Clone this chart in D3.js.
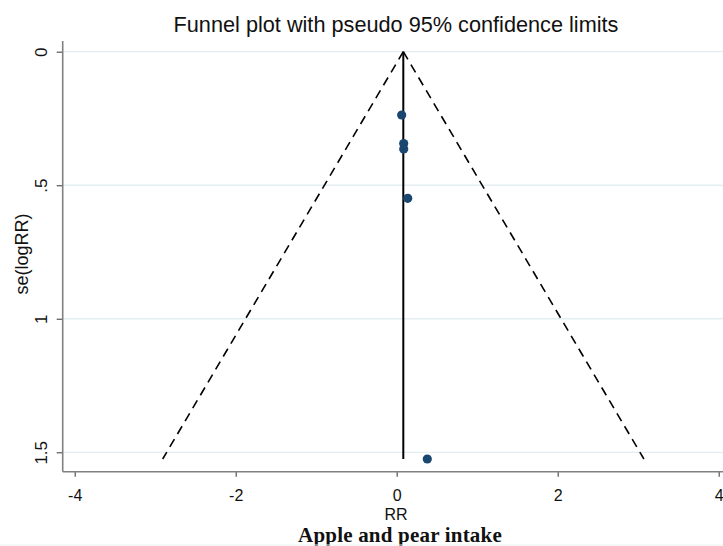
<!DOCTYPE html>
<html>
<head>
<meta charset="utf-8">
<script src="https://cdn.jsdelivr.net/npm/d3@7"></script>
<style>
  body { margin: 0; background: #fff; }
  text { font-family: "Liberation Sans", Arial, sans-serif; fill: #111; }
</style>
</head>
<body>
<div id="chart"></div>
<script>
// study estimates
var logRR = [0.062, 0.087, 0.087, 0.137, 0.380];
var seLogRR = [0.237, 0.344, 0.364, 0.549, 1.525];

// pooled estimate and pseudo 95% limits (endpoints of the funnel)
var pooled = 0.082;
var funnelSe = [0, 1.525];
var lowerLimit = [0.082, -2.907];
var upperLimit = [0.082, 3.071];

var xTicks = [-4, -2, 0, 2, 4];
var yTicks = [0, 0.5, 1, 1.5];
var yTickLabels = ["0", ".5", "1", "1.5"];

var w = 723;
var h = 546;

var svg = d3
  .select("#chart")
  .append("svg")
  .attr("width", w)
  .attr("height", h);

// scales
var xScale = d3.scaleLinear().domain([-4, 4]).range([74.7, 718.7]);
var yScale = d3.scaleLinear().domain([0, 1.5]).range([51.7, 452.3]);

var plotLeft = 62.7;
var plotTop = 41;
var plotBottom = 471.7;

// grid lines
svg
  .append("g")
  .selectAll("line")
  .data(yTicks)
  .enter()
  .append("line")
  .attr("x1", plotLeft)
  .attr("x2", w)
  .attr("y1", (d) => yScale(d))
  .attr("y2", (d) => yScale(d))
  .style("stroke", "#e3eef0")
  .style("stroke-width", 1.3);

// y axis
var yAxis = d3
  .axisLeft(yScale)
  .tickValues(yTicks)
  .tickFormat((d, i) => yTickLabels[i])
  .tickSize(6)
  .tickSizeOuter(0);

var gy = svg
  .append("g")
  .attr("transform", "translate(" + plotLeft + ",0)")
  .call(yAxis);
gy.select(".domain").remove();
gy.selectAll(".tick line").style("stroke", "#555").style("stroke-width", 1.2);
gy.selectAll(".tick text")
  .attr("x", 0)
  .attr("y", 0)
  .attr("dy", 0)
  .attr("transform", "translate(-16,0) rotate(-90)")
  .attr("text-anchor", "middle")
  .style("font-size", "17px")
  .style("font-family", "Liberation Sans, Arial, sans-serif")
  .style("fill", "#111");

svg
  .append("line")
  .attr("x1", plotLeft)
  .attr("x2", plotLeft)
  .attr("y1", plotTop)
  .attr("y2", plotBottom)
  .style("stroke", "#808080")
  .style("stroke-width", 1.6);

// x axis (plain hyphen for negatives, as in the original)
var xAxis = d3
  .axisBottom(xScale)
  .tickValues(xTicks)
  .tickFormat((d) => String(d))
  .tickSize(5)
  .tickSizeOuter(0);

var gx = svg
  .append("g")
  .attr("transform", "translate(0," + plotBottom + ")")
  .call(xAxis);
gx.select(".domain").remove();
gx.selectAll(".tick line").style("stroke", "#555").style("stroke-width", 1.2);
gx.selectAll(".tick text")
  .attr("y", 29)
  .attr("dy", 0)
  .style("font-size", "16px")
  .style("font-family", "Liberation Sans, Arial, sans-serif")
  .style("fill", "#111");

svg
  .append("line")
  .attr("x1", plotLeft)
  .attr("x2", w)
  .attr("y1", plotBottom)
  .attr("y2", plotBottom)
  .style("stroke", "#808080")
  .style("stroke-width", 1.6);

// funnel (dashed)
var line = d3
  .line()
  .x((d) => xScale(d[0]))
  .y((d) => yScale(d[1]));

[lowerLimit, upperLimit].forEach(function (lim) {
  svg
    .append("path")
    .datum([
      [lim[0], funnelSe[0]],
      [lim[1], funnelSe[1]],
    ])
    .attr("d", line)
    .style("fill", "none")
    .style("stroke", "#000")
    .style("stroke-width", 1.6)
    .style("stroke-dasharray", "9,6");
});

// pooled estimate line
svg
  .append("path")
  .datum([
    [pooled, funnelSe[0]],
    [pooled, funnelSe[1]],
  ])
  .attr("d", line)
  .style("fill", "none")
  .style("stroke", "#000")
  .style("stroke-width", 2);

// studies
svg
  .append("g")
  .selectAll("circle")
  .data(logRR)
  .enter()
  .append("circle")
  .attr("cx", (d) => xScale(d))
  .attr("cy", (d, i) => yScale(seLogRR[i]))
  .attr("r", 4.6)
  .style("fill", "#1a476f");

// title
svg
  .append("text")
  .attr("x", 396)
  .attr("y", 31.5)
  .attr("text-anchor", "middle")
  .style("font-size", "21.7px")
  .text("Funnel plot with pseudo 95% confidence limits");

// axis titles
svg
  .append("text")
  .attr("x", 396)
  .attr("y", 519.8)
  .attr("text-anchor", "middle")
  .style("font-size", "16px")
  .text("RR");

svg
  .append("text")
  .attr("transform", "translate(27.5,254) rotate(-90)")
  .attr("text-anchor", "middle")
  .style("font-size", "18px")
  .text("se(logRR)");

svg
  .append("text")
  .attr("x", 400)
  .attr("y", 542.2)
  .attr("text-anchor", "middle")
  .style("font-family", "Liberation Serif, Times New Roman, serif")
  .style("font-weight", "bold")
  .style("font-size", "21px")
  .style("letter-spacing", "0.2px")
  .text("Apple and pear intake");

// faint page line at the bottom
svg
  .append("line")
  .attr("x1", 0)
  .attr("x2", w)
  .attr("y1", 545)
  .attr("y2", 545)
  .style("stroke", "#edf2f2")
  .style("stroke-width", 1);
</script>
</body>
</html>
